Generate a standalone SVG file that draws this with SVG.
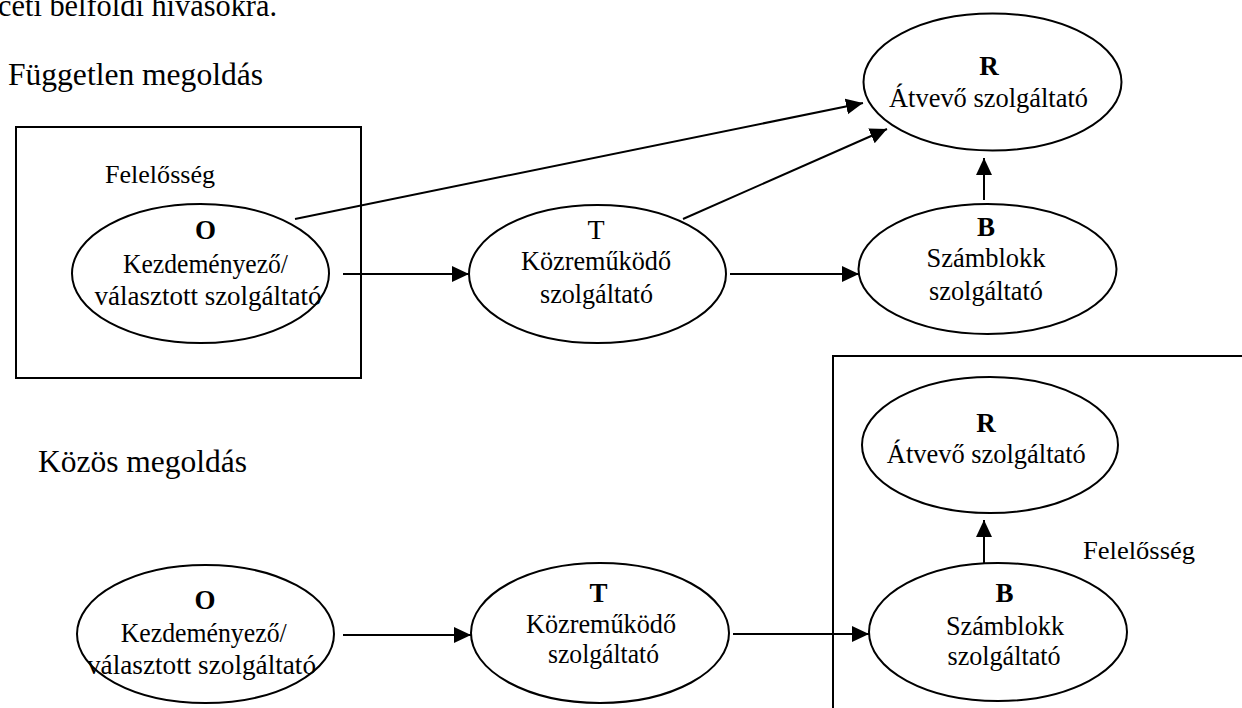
<svg xmlns="http://www.w3.org/2000/svg" width="1242" height="708" viewBox="0 0 1242 708">
<defs>
<style>
text{font-family:"Liberation Serif","Times New Roman",serif;fill:#000}
.n{font-size:28px;text-anchor:middle}
.b{font-size:27px;font-weight:bold;text-anchor:middle}
.t{font-size:32px}
.f{font-size:26px}
.sh{fill:#fff;stroke:#000;stroke-width:2}
.box{fill:none;stroke:#000;stroke-width:2}
.c{fill:none;stroke:#000;stroke-width:2;marker-end:url(#ah)}
</style>
<marker id="ah" markerUnits="userSpaceOnUse" markerWidth="18" markerHeight="18" refX="17" refY="8" orient="auto" viewBox="0 0 18 16">
<path d="M0,0 L17,8 L0,16 z" fill="#000"/>
</marker>
</defs>
<rect width="1242" height="708" fill="#fff"/>
<text class="t" x="-2" y="16" textLength="279" lengthAdjust="spacingAndGlyphs">ceti belföldi hívásokra.</text>
<text class="t" x="8" y="85" textLength="255" lengthAdjust="spacingAndGlyphs">Független megoldás</text>
<text class="t" x="38" y="472" textLength="209" lengthAdjust="spacingAndGlyphs">Közös megoldás</text>
<g id="box-top">
<rect class="box" x="16" y="127" width="345" height="251"/>
<text class="f" x="105" y="183" textLength="110" lengthAdjust="spacingAndGlyphs">Felelősség</text>
</g>
<g id="box-bottom">
<polyline class="box" points="1242,356 833,356 833,708"/>
<text class="f" x="1083" y="559" textLength="112" lengthAdjust="spacingAndGlyphs">Felelősség</text>
</g>
<g id="connectors">
<line class="c" x1="295" y1="219" x2="863" y2="103"/>
<line class="c" x1="683" y1="219" x2="887" y2="129"/>
<line class="c" x1="984" y1="200" x2="984" y2="158"/>
<line class="c" x1="343" y1="274" x2="469" y2="274"/>
<line class="c" x1="730" y1="274" x2="859" y2="274"/>
<line class="c" x1="984" y1="563" x2="984" y2="520"/>
<line class="c" x1="343" y1="635" x2="471" y2="635"/>
<line class="c" x1="733" y1="634" x2="869" y2="634"/>
</g>
<g id="o1">
<ellipse class="sh" cx="200.5" cy="273.5" rx="128.5" ry="69.5"/>
<text class="b" x="205.5" y="239">O</text>
<text class="n" x="205.5" y="273" textLength="165" lengthAdjust="spacingAndGlyphs">Kezdeményező/</text>
<text class="n" x="208" y="305" textLength="227" lengthAdjust="spacingAndGlyphs">választott szolgáltató</text>
</g>
<g id="t1">
<ellipse class="sh" cx="597.5" cy="274" rx="128.5" ry="69"/>
<text class="n" x="596" y="239">T</text>
<text class="n" x="596" y="270" textLength="150" lengthAdjust="spacingAndGlyphs">Közreműködő</text>
<text class="n" x="596.5" y="303" textLength="113" lengthAdjust="spacingAndGlyphs">szolgáltató</text>
</g>
<g id="r1">
<ellipse class="sh" cx="992.5" cy="82" rx="129" ry="68.5"/>
<text class="b" x="989" y="75">R</text>
<text class="n" x="988.5" y="107" textLength="199" lengthAdjust="spacingAndGlyphs">Átvevő szolgáltató</text>
</g>
<g id="b1">
<ellipse class="sh" cx="987.5" cy="269" rx="129" ry="65"/>
<text class="b" x="986" y="236">B</text>
<text class="n" x="986" y="267" textLength="119" lengthAdjust="spacingAndGlyphs">Számblokk</text>
<text class="n" x="986" y="300" textLength="114" lengthAdjust="spacingAndGlyphs">szolgáltató</text>
</g>
<g id="o2">
<ellipse class="sh" cx="205.5" cy="634" rx="128.5" ry="69"/>
<text class="b" x="205" y="609">O</text>
<text class="n" x="203.7" y="642" textLength="166" lengthAdjust="spacingAndGlyphs">Kezdeményező/</text>
<text class="n" x="201.5" y="674" textLength="229" lengthAdjust="spacingAndGlyphs">választott szolgáltató</text>
</g>
<g id="t2">
<ellipse class="sh" cx="600" cy="633" rx="129" ry="70"/>
<text class="b" x="598.5" y="602">T</text>
<text class="n" x="601" y="633" textLength="150" lengthAdjust="spacingAndGlyphs">Közreműködő</text>
<text class="n" x="603.5" y="663" textLength="111" lengthAdjust="spacingAndGlyphs">szolgáltató</text>
</g>
<g id="r2">
<ellipse class="sh" cx="990" cy="445" rx="128" ry="68"/>
<text class="b" x="986" y="432">R</text>
<text class="n" x="986.3" y="463" textLength="199" lengthAdjust="spacingAndGlyphs">Átvevő szolgáltató</text>
</g>
<g id="b2">
<ellipse class="sh" cx="998" cy="632" rx="129" ry="69"/>
<text class="b" x="1004.5" y="602">B</text>
<text class="n" x="1005" y="635" textLength="118" lengthAdjust="spacingAndGlyphs">Számblokk</text>
<text class="n" x="1004" y="665" textLength="113" lengthAdjust="spacingAndGlyphs">szolgáltató</text>
</g>
</svg>
